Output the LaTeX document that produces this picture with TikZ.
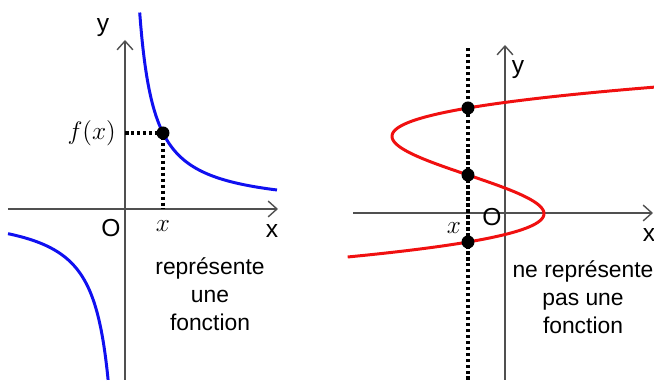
\documentclass[tikz,border=0pt]{standalone}
\usepackage{fontspec}
\setmainfont{Liberation Sans}
\usetikzlibrary{arrows.meta}
\definecolor{axisgray}{HTML}{505050}
\definecolor{curveblue}{HTML}{1010F0}
\definecolor{curvered}{HTML}{F01010}
\tikzset{
  axis/.style={axisgray,line width=.8pt,-{Straight Barb[length=5pt,width=9pt,line width=.8pt]}},
  guide/.style={black,line width=1.9pt,dash pattern=on 2pt off 1.4pt},
  graph/.style={line width=1.7pt,smooth,samples=120},
  pt/.style={circle,fill=black,inner sep=0pt,minimum size=2.6mm},
  lbl/.style={font=\fontsize{14}{16}\selectfont},
  mathlbl/.style={font=\fontsize{14.5}{16}\selectfont},
  caption/.style={font=\fontsize{13}{16}\selectfont,align=center}
}
\begin{document}
\begin{tikzpicture}[x=0.02cm,y=0.02cm]
    \useasboundingbox (0,0) rectangle (654,385);
    % left: graph of a function
    \coordinate (xa1) at (8,176);
    \coordinate (xb1) at (278,176);
    \coordinate (ya1) at (125,5);
    \coordinate (yb1) at (125,345);
    \draw[axis] (xa1) -- (xb1);
    \draw[axis] (ya1) -- (yb1);
    \draw[graph,curveblue] plot[domain=14.7:152] ({125+\x},{176+2888/\x});
    \draw[graph,curveblue] plot[domain=-117:-16.9] ({125+\x},{176+2888/\x});
    \node[pt] (p1) at (163,252) {};
    \coordinate (fy1) at (125,252);
    \coordinate (fx1) at (163,176);
    \draw[guide] (fy1) -- (p1.center) -- (fx1);
    \node[lbl] (ly1) at (103,357) {y};
    \node[lbl] (lx1) at (272,154) {x};
    \node[lbl] (lo1) at (111,157) {O};
    \node[mathlbl] (vx1) at (163,159) {$x$};
    \node[mathlbl,anchor=east] (vf1) at (122,252) {$f(x)$};
    \node[caption] (c1) at (210,91) {représente\\une\\fonction};
    % right: not the graph of a function
    \coordinate (xa2) at (353,172);
    \coordinate (xb2) at (653,172);
    \coordinate (ya2) at (505,5);
    \coordinate (yb2) at (505,340);
    \draw[axis] (xa2) -- (xb2);
    \draw[axis] (ya2) -- (yb2);
    \draw[graph,curvered] plot[domain=-44:128]
      ({468+(\x-105)/10*(\x-38)/10*(\x+29)/10*0.6565},{172+\x});
    \coordinate (da2) at (468,5);
    \coordinate (db2) at (468,337);
    \draw[guide] (da2) -- (db2);
    \foreach \n/\h in {q1/277,q2/210,q3/143}
      \node[pt] (\n) at (468,\h) {};
    \node[lbl] (ly2) at (518,315) {y};
    \node[lbl] (lx2) at (649,150) {x};
    \node[lbl] (lo2) at (492,168) {O};
    \node[mathlbl] (vx2) at (454,157) {$x$};
    \node[caption] (c2) at (583,88) {ne représente\\pas une\\fonction};
\end{tikzpicture}
\end{document}
